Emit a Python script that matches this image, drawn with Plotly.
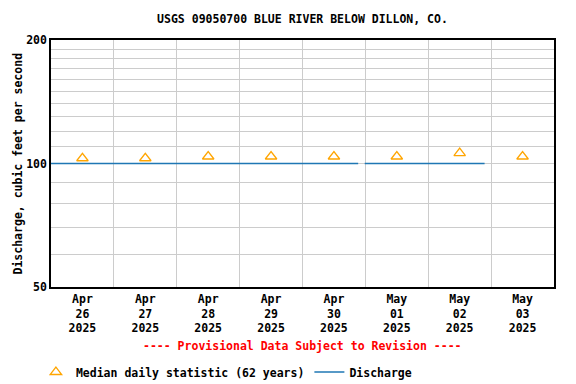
import plotly.graph_objects as go

# ---- data ----
median_dates = ["2025-04-26 12:00", "2025-04-27 12:00", "2025-04-28 12:00", "2025-04-29 12:00",
                "2025-04-30 12:00", "2025-05-01 12:00", "2025-05-02 12:00", "2025-05-03 12:00"]
median_cfs = [103, 103, 104, 104, 104, 104, 106, 104]

discharge_time = ["2025-04-26 00:00", "2025-04-30 21:15", "2025-04-30 22:30",
                  "2025-04-30 23:45", "2025-05-02 21:30"]
discharge_cfs = [100, 100, None, 100, 100]

x_tickvals = median_dates
x_ticktext = ["Apr<br>26<br>2025", "Apr<br>27<br>2025", "Apr<br>28<br>2025", "Apr<br>29<br>2025",
              "Apr<br>30<br>2025", "May<br>01<br>2025", "May<br>02<br>2025", "May<br>03<br>2025"]
y_tickvals = [50, 100, 200]
y_ticktext = ["50", "100", "200"]
y_minor = [60, 70, 80, 90, 110, 120, 130, 140, 150, 160, 170, 180, 190]

FONT = "DejaVu Sans Mono"
fs = 11.5
W, H = 568, 376   # page body has an 8px default margin
PW, PH = 503, 247  # plot area px

fig = go.Figure()
fig.add_trace(go.Scatter(
    x=median_dates, y=median_cfs, mode="markers",
    name="<b>Median daily statistic (62 years)</b>",
    marker=dict(symbol="triangle-up-open", size=10, color="#FFA500", line=dict(width=1.3)),
))
fig.add_trace(go.Scatter(
    x=discharge_time, y=discharge_cfs, mode="lines", name="<b>Discharge</b>",
    line=dict(color="#1f77b4", width=1.5), connectgaps=False,
))

fig.update_layout(
    width=W, height=H,
    margin=dict(l=43, r=22, t=32, b=97, autoexpand=False),
    paper_bgcolor="white", plot_bgcolor="white",
    font=dict(family=FONT, size=fs, color="black"),
    title=dict(text="<b>USGS 09050700 BLUE RIVER BELOW DILLON, CO.</b>",
               x=0.5, xref="paper", xanchor="center", y=1 - 11/H, yanchor="middle",
               font=dict(family=FONT, size=fs, color="black")),
    showlegend=True,
    legend=dict(orientation="h", x=-0.03, xanchor="left", y=-85/PH, yanchor="middle",
                font=dict(family=FONT, size=fs, color="black"),
                bgcolor="rgba(0,0,0,0)", itemwidth=30, tracegroupgap=0),
    annotations=[
        dict(text="<b>---- Provisional Data Subject to Revision ----</b>",
             x=0.5, xref="paper", y=-59/PH, yref="paper", showarrow=False,
             xanchor="center", yanchor="middle",
             font=dict(family=FONT, size=fs, color="red")),
        dict(text="<b>Discharge, cubic feet per second</b>", textangle=-90,
             x=-43/PW, xref="paper", y=0.5, yref="paper", showarrow=False,
             xanchor="left", yanchor="middle",
             font=dict(family=FONT, size=fs, color="black")),
    ],
)
fig.update_xaxes(
    type="date", range=["2025-04-26 00:00", "2025-05-04 00:00"], automargin=False,
    tickmode="array", tickvals=x_tickvals, ticktext=[f"<b>{t}</b>" for t in x_ticktext],
    showgrid=False, ticks="", showline=True, linecolor="black", linewidth=1.5, mirror=True,
    tickfont=dict(family=FONT, size=fs, color="black"),
    minor=dict(tick0="2025-04-26", dtick=86400000, showgrid=True, gridcolor="#cccccc",
               gridwidth=1, ticks=""),
    zeroline=False,
)
fig.update_yaxes(
    type="log", range=[1.69897, 2.30103], automargin=False,
    tickmode="array", tickvals=y_tickvals, ticktext=[f"<b>{t}</b>" for t in y_ticktext],
    showgrid=True, gridcolor="#cccccc", gridwidth=1, ticks="",
    showline=True, linecolor="black", linewidth=1.5, mirror=True,
    tickfont=dict(family=FONT, size=fs, color="black"),
    minor=dict(tickmode="array", tickvals=y_minor, showgrid=True, gridcolor="#cccccc",
               gridwidth=1, ticks=""),
    zeroline=False,
)

fig.write_html("out.html")
